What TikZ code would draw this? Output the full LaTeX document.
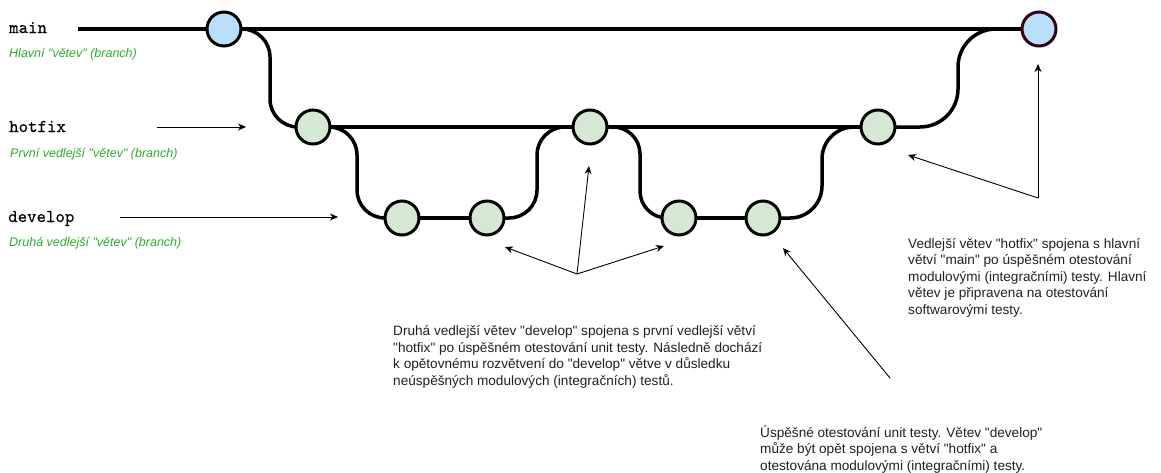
\documentclass[tikz,border=0pt]{standalone}
\usepackage{fontspec}
\setmainfont{Liberation Sans}[Ligatures=TeXOff]
\newfontfamily\codefont{lmmono10-regular.otf}[FakeBold=0.35]
\usetikzlibrary{arrows.meta,backgrounds}
\definecolor{commitgreen}{HTML}{D5E8D4}
\definecolor{commitblue}{HTML}{BADFFA}
\definecolor{releaseedge}{HTML}{33001A}
\definecolor{labelgreen}{HTML}{2EAA2E}
\definecolor{notegray}{HTML}{202020}
\begin{document}
\begin{tikzpicture}[x=1pt,y=-1pt,
  commit/.style={circle, draw=black, line width=3pt, minimum size=34pt, inner sep=0pt, fill=commitgreen},
  maincommit/.style={commit, fill=commitblue},
  releasecommit/.style={commit, fill=commitblue, draw=releaseedge},
  trunk/.style={line width=4pt, draw=black},
  merge/.style={line width=3.5pt, draw=black},
  branchname/.style={font=\codefont\fontsize{18}{20}\selectfont, inner sep=0pt, anchor=base west},
  branchnote/.style={font=\itshape\fontsize{12.5}{15}\selectfont, text=labelgreen, inner sep=0pt, anchor=base west},
  note/.style={font=\fontsize{13.6}{16.4}\selectfont, text=notegray, align=left, inner sep=0pt, anchor=base west},
  pointer/.style={line width=0.9pt, draw=black, -{Stealth[length=8pt,width=7pt,inset=2.5pt]}}
]
\useasboundingbox (0,0) rectangle (1161,472);

% commits
\node[maincommit] (m1) at (224,29) {};
\node[releasecommit] (m2) at (1039,29) {};
\node[commit] (h1) at (313,127) {};
\node[commit] (h2) at (590,127) {};
\node[commit] (h3) at (878,127) {};
\node[commit] (d1) at (402,218) {};
\node[commit] (d2) at (487,218) {};
\node[commit] (d3) at (679,218) {};
\node[commit] (d4) at (763,218) {};

% branch lines and merges, behind the commits
\coordinate (mainstart) at (78,29);
\begin{scope}[on background layer]
  \draw[trunk] (mainstart) -- (m2.center);
  \draw[trunk] (h1.center) -- (h3.center);
  \draw[merge] (d1.center) -- (d2.center);
  \draw[merge] (d3.center) -- (d4.center);
  \draw[merge, rounded corners=28pt] (m1.center) -- (m1.center -| 270,0) -- (h1.center -| 270,0) -- (h1.center);
  \draw[merge, rounded corners=28pt] (h1.center) -- (h1.center -| 357,0) -- (d1.center -| 357,0) -- (d1.center);
  \draw[merge, rounded corners=28pt] (d2.center) -- (d2.center -| 537,0) -- (h2.center -| 537,0) -- (h2.center);
  \draw[merge, rounded corners=27pt] (h2.center) -- (h2.center -| 640,0) -- (d3.center -| 640,0) -- (d3.center);
  \draw[merge, rounded corners=32pt] (d4.center) -- (d4.center -| 822,0) -- (h3.center -| 822,0) -- (h3.center);
  \draw[merge, rounded corners=38pt] (h3.center) -- (h3.center -| 958,0) -- (m2.center -| 958,0) -- (m2.center);
\end{scope}

% branch names
\node[branchname] (nmain) at (9,33) {main};
\node[branchnote] (gmain) at (9,57) {Hlavní "větev" (branch)};
\node[branchname] (nhot) at (9,132) {hotfix};
\node[branchnote] (ghot) at (10,157) {První vedlejší "větev" (branch)};
\node[branchname] (ndev) at (8,222) {develop};
\node[branchnote] (gdev) at (9,246) {Druhá vedlejší "větev" (branch)};

% pointers from the branch names
\coordinate (hotfrom) at (157,127);
\coordinate (hotto) at (246,127);
\coordinate (devfrom) at (120,217);
\coordinate (devto) at (338,217);
\draw[pointer] (hotfrom) -- (hotto);
\draw[pointer] (devfrom) -- (devto);

% notes (anchored at the baseline of their last line)
\node[note] (notemerge) at (393,385) {Druhá vedlejší větev "develop" spojena s první vedlejší větví\\"hotfix" po úspěšném otestování unit testy. Následně dochází\\k opětovnému rozvětvení do "develop" větve v důsledku\\neúspěšných modulových (integračních) testů.};
\node[note] (noteunit) at (760,470) {Úspěšné otestování unit testy. Větev "develop"\\může být opět spojena s větví "hotfix" a\\otestována modulovými (integračními) testy.};
\node[note] (notemain) at (908,314) {Vedlejší větev "hotfix" spojena s hlavní\\větví "main" po úspěšném otestování\\modulovými (integračními) testy. Hlavní\\větev je připravena na otestování\\softwarovými testy.};

% pointers from the notes
\coordinate (mergeapex) at (577,274);
\coordinate (mergeleft) at (505,247);
\coordinate (mergeup) at (589,166);
\coordinate (mergeright) at (664,246);
\draw[pointer] (mergeapex) -- (mergeleft);
\draw[pointer] (mergeapex) -- (mergeup);
\draw[pointer] (mergeapex) -- (mergeright);

\coordinate (unitfrom) at (890,378);
\coordinate (unitto) at (783,248);
\draw[pointer] (unitfrom) -- (unitto);

\coordinate (mainapex) at (1038,198);
\coordinate (mainleft) at (908,155);
\coordinate (mainup) at (1038,64);
\draw[pointer] (mainapex) -- (mainleft);
\draw[pointer] (mainapex) -- (mainup);
\end{tikzpicture}
\end{document}
